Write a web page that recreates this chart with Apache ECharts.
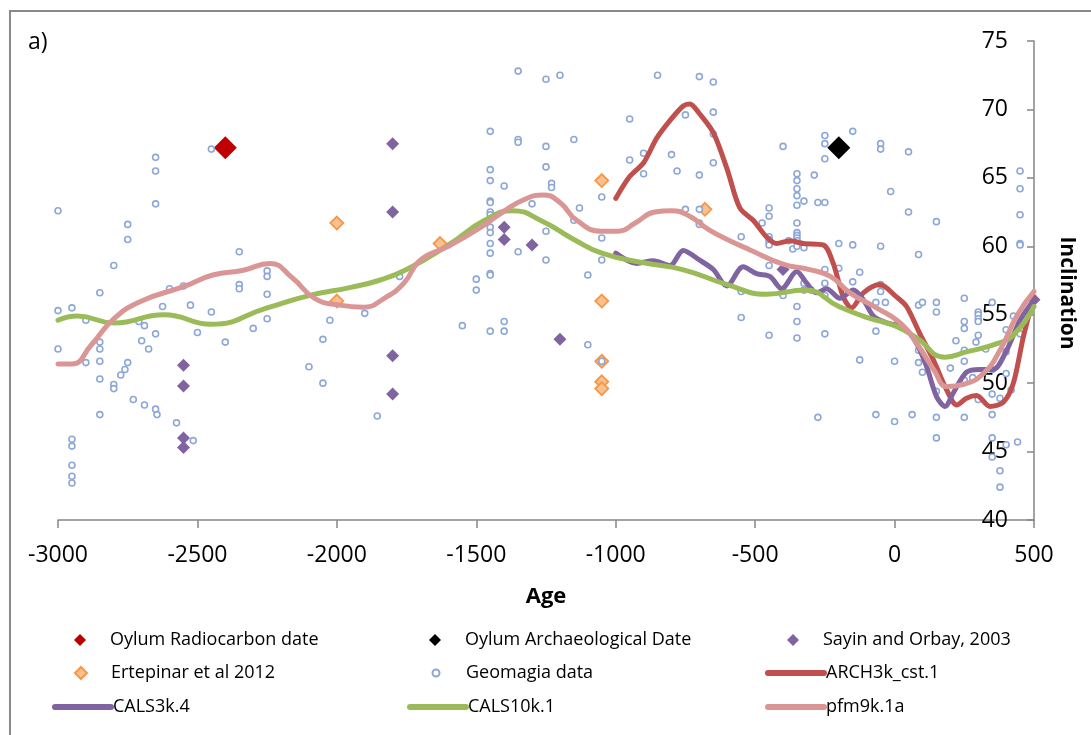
<!DOCTYPE html>
<html>
<head>
<meta charset="utf-8">
<script src="https://cdn.jsdelivr.net/npm/echarts@6/dist/echarts.min.js"></script>
<style>
html,body{margin:0;padding:0;background:#fff;}
#chart{width:1091px;height:735px;}
</style>
</head>
<body>
<div id="chart"></div>
<script>
// ---------- DATA ----------
var xTicks = [-3000, -2500, -2000, -1500, -1000, -500, 0, 500];
var yTicks = [40, 45, 50, 55, 60, 65, 70, 75];

var oylumRadiocarbon = [[-2400, 67.2]];
var oylumArchaeological = [[-200, 67.2]];
var sayinOrbay = [[-2550,51.3],[-2550,49.8],[-2550,46.0],[-2550,45.3],[-1800,67.5],[-1800,62.5],[-1800,52.0],[-1800,49.2],[-1400,61.4],[-1400,60.5],[-1300,60.1],[-1200,53.2],[-400,58.3],[500,56.1]];
var ertepinar = [[-2000,61.7],[-2000,56.0],[-1630,60.2],[-1050,64.8],[-1050,56.0],[-1050,51.6],[-1050,50.1],[-1050,49.6],[-680,62.7]];
var geomagia = [
[-3000,62.6],[-3000,55.3],[-3000,52.5],[-2950,55.5],[-2950,45.9],[-2950,45.4],[-2950,44.0],[-2950,43.2],[-2950,42.7],[-2900,54.6],[-2900,51.5],
[-2850,56.6],[-2850,53.0],[-2850,52.5],[-2850,51.6],[-2850,50.3],[-2850,47.7],[-2800,58.6],[-2800,49.9],[-2800,49.6],[-2775,50.6],[-2760,51.0],
[-2750,61.6],[-2750,60.5],[-2750,51.5],[-2730,48.8],[-2710,54.5],[-2700,53.1],[-2690,54.2],[-2690,48.4],[-2675,52.5],[-2650,66.5],[-2650,65.5],
[-2650,63.1],[-2650,53.6],[-2650,48.1],[-2645,47.7],[-2625,55.6],[-2600,56.9],[-2575,47.1],[-2550,57.1],[-2525,55.7],[-2515,45.8],[-2500,53.7],
[-2450,67.1],[-2450,55.2],[-2400,53.0],[-2350,59.6],[-2350,57.2],[-2350,56.9],[-2300,54.0],[-2250,58.2],[-2250,57.8],[-2250,56.5],[-2250,54.7],
[-2100,51.2],[-2050,53.2],[-2050,50.0],[-2025,54.6],[-1900,55.1],[-1855,47.6],
[-1775,57.8],[-1550,54.2],[-1500,57.6],[-1500,56.8],[-1450,68.4],[-1450,65.6],[-1450,64.8],[-1450,63.3],[-1450,63.2],[-1450,62.5],[-1450,62.3],
[-1450,62.0],[-1450,61.4],[-1450,61.0],[-1450,60.2],[-1450,59.5],[-1450,58.0],[-1450,57.9],[-1450,53.8],[-1400,64.4],[-1400,54.5],[-1400,53.8],
[-1350,72.8],[-1350,67.8],[-1350,67.6],[-1350,59.6],[-1300,63.1],[-1250,72.2],[-1250,67.3],[-1250,65.8],[-1250,61.1],[-1250,59.0],[-1230,64.6],
[-1230,64.3],[-1200,72.5],[-1150,67.8],[-1150,61.9],[-1130,62.8],[-1100,57.9],[-1100,52.8],[-1050,63.6],[-1050,60.6],[-1050,59.0],[-1050,51.6],
[-950,69.3],[-950,66.3],[-900,66.8],[-900,65.3],[-850,72.5],[-800,66.7],[-780,65.5],[-750,69.6],[-750,62.7],[-700,72.4],[-700,65.2],[-700,62.7],
[-700,61.7],[-700,61.6],
[-650,72.0],[-650,69.8],[-650,68.2],[-650,66.1],[-550,60.7],[-550,56.7],[-550,54.8],[-475,61.7],[-450,62.8],[-450,62.2],[-450,60.7],[-450,60.5],
[-450,60.3],[-450,60.1],[-450,58.6],[-450,53.5],[-400,67.3],[-400,56.8],[-400,56.4],[-380,60.4],[-365,59.8],[-350,65.3],[-350,64.8],[-350,64.2],
[-350,63.7],[-350,63.0],[-350,61.7],[-350,61.0],[-350,60.8],[-350,60.6],[-350,60.4],[-350,60.0],[-350,55.6],[-350,54.5],[-350,53.3],[-325,63.3],
[-325,59.9],[-325,57.3],[-325,56.8],[-300,56.8],[-288,65.2],[-275,47.5],[-275,63.2],[-250,68.1],[-250,67.5],[-250,66.4],[-250,63.2],[-250,58.3],
[-250,57.3],[-250,56.4],[-250,53.6],[-200,60.2],[-200,58.4],[-150,68.4],[-150,60.1],[-150,57.4],[-125,58.1],[-125,51.7],[-67,55.9],[-67,53.8],
[-67,47.7],[-50,67.5],[-50,67.1],[-50,60.0],[-50,57.2],[-50,56.7],[-33,55.9],[-14,64.0],[0,51.6],[0,47.2],[50,66.9],[50,62.5],[63,47.7],
[86,59.4],[86,55.7],[86,52.4],[86,51.5],[100,55.9],[100,50.8],[150,61.8],[150,55.9],[150,55.2],[150,49.4],[150,47.5],[150,46.0],[200,51.1],
[220,53.1],[250,56.2],[250,54.5],[250,54.0],[250,52.4],[250,51.6],[250,50.2],[250,47.5],[280,50.4],[292,53.0],[300,55.2],[300,55.0],[300,54.7],
[300,54.5],[300,53.5],[300,48.8],[327,52.5],[350,55.9],[350,51.0],[350,49.2],[350,47.7],[350,46.0],[350,44.6],[378,48.9],[378,43.6],[378,42.4],
[400,53.9],[400,52.3],[400,50.7],[400,45.5],[418,49.5],[426,54.9],[441,45.7],[450,65.5],[450,64.2],[450,62.3],[450,60.2],[450,60.1],[450,53.6]
];
var arch3k = [[-1000,63.5],[-950,65.1],[-900,66.1],[-853,67.9],[-805,69.2],[-758,70.25],[-734,70.4],[-700,69.7],[-650,68.3],[-600,65.6],[-555,62.8],[-507,61.9],[-460,60.7],[-423,60.2],[-375,60.4],[-327,60.2],[-256,60.1],[-220,58.75],[-184,56.3],[-154,55.5],[-112,56.6],[-53,57.2],[7,56.3],[43,55.6],[91,53.6],[139,51.7],[187,49.5],[223,48.4],[258,48.9],[294,49.1],[342,48.3],[390,48.6],[426,50.0],[462,53.4],[500,56.3]];
var cals3k = [[-1000,59.5],[-925,58.75],[-865,58.95],[-805,58.6],[-758,59.7],[-700,59.0],[-650,58.3],[-602,57.1],[-543,58.5],[-495,58.0],[-447,57.8],[-405,56.9],[-351,58.15],[-315,57.3],[-280,56.6],[-244,56.9],[-196,56.2],[-148,56.8],[-112,56.1],[-76,54.9],[-28,54.4],[31,54.1],[79,52.9],[115,51.2],[151,49.0],[181,48.3],[211,49.3],[258,50.8],[306,51.0],[354,51.0],[402,52.4],[450,54.6],[500,56.1]];
var cals10k = [[-3000,54.6],[-2930,54.9],[-2800,54.4],[-2620,55.0],[-2450,54.3],[-2250,55.5],[-2100,56.4],[-1950,57.0],[-1850,57.5],[-1750,58.3],[-1600,60.1],[-1470,61.9],[-1370,62.6],[-1260,61.8],[-1150,60.5],[-1050,59.5],[-900,58.8],[-760,58.3],[-600,57.2],[-460,56.5],[-320,56.8],[-200,55.6],[-100,54.8],[0,54.2],[80,53.3],[180,51.9],[260,52.3],[370,52.9],[430,53.6],[500,55.6]];
var pfm9k = [[-3000,51.4],[-2950,51.4],[-2880,52.8],[-2800,54.7],[-2700,56.0],[-2550,57.05],[-2445,57.9],[-2335,58.25],[-2240,58.75],[-2160,57.7],[-2080,56.2],[-1990,55.7],[-1905,55.55],[-1830,56.2],[-1760,57.3],[-1700,59.0],[-1600,60.0],[-1490,61.3],[-1405,62.5],[-1330,63.4],[-1260,63.75],[-1200,63.2],[-1140,61.9],[-1050,61.1],[-990,61.1],[-930,61.7],[-860,62.5],[-800,62.6],[-735,62.2],[-665,61.2],[-600,60.5],[-520,59.75],[-400,58.7],[-305,58.3],[-230,57.8],[-160,56.6],[-65,55.5],[20,54.4],[80,52.9],[140,51.0],[190,49.75],[245,49.9],[318,50.7],[378,52.4],[438,54.9],[500,56.7]];

var seriesNames = ['Oylum Radiocarbon date','Oylum Archaeological Date','Sayin and Orbay, 2003','Ertepinar et al 2012','Geomagia data','ARCH3k_cst.1','CALS3k.4','CALS10k.1','pfm9k.1a'];

// ---------- CHART ----------
var FONT = "'Open Sans', 'Liberation Sans', sans-serif";
var chart = echarts.init(document.getElementById('chart'), null, {renderer: 'canvas'});

var legendCols = [52, 407, 765];
var legendRows = [630, 663, 697];
// [name, column, row, kind]
var legendLayout = [
  [seriesNames[0], 0, 0, 'd'], [seriesNames[1], 1, 0, 'd'], [seriesNames[2], 2, 0, 'd'],
  [seriesNames[3], 0, 1, 'd'], [seriesNames[4], 1, 1, 'c'], [seriesNames[5], 2, 1, 'l'],
  [seriesNames[6], 0, 2, 'l'], [seriesNames[7], 1, 2, 'l'], [seriesNames[8], 2, 2, 'l']
];
var legends = legendLayout.map(function (l) {
  var kind = l[3];
  var w = kind === 'l' ? 56 : (kind === 'd' ? 12 : 7);
  var h = kind === 'l' ? 20 : w;
  var left = legendCols[l[1]] + (56 - w) / 2;
  var textPad = (legendCols[l[1]] + 58) - (left + w + 5);
  var lg = {
    data: [l[0]],
    left: left,
    top: legendRows[l[2]] + (kind === 'l' ? 0 : 0),
    orient: 'horizontal',
    padding: 0,
    itemGap: 0,
    itemWidth: w,
    itemHeight: h,
    selectedMode: false,
    textStyle: {fontFamily: FONT, fontSize: 18, color: '#000', lineHeight: 20, padding: [0, 0, 0, textPad]}
  };
  if (kind === 'l') {
    lg.lineStyle = {width: 6, cap: 'round'};
    lg.itemStyle = {opacity: 0};
  }
  return lg;
});

function lineSeries(name, data, color, smooth) {
  return {
    name: name, type: 'line', data: data, symbol: 'none', showSymbol: false,
    smooth: smooth,
    lineStyle: {color: color, width: 5, cap: 'round', join: 'round'},
    itemStyle: {color: color},
    emphasis: {disabled: true}, animation: false
  };
}

var option = {
  animation: false,
  backgroundColor: '#fff',
  grid: {left: 58, top: 41, width: 976, height: 479, containLabel: false},
  legend: legends,
  xAxis: {
    type: 'value', min: -3000, max: 500, interval: 500,
    axisLine: {show: true, onZero: false, lineStyle: {color: '#868686', width: 1.5}},
    axisTick: {show: true, length: 8, lineStyle: {color: '#868686', width: 1.5}},
    axisLabel: {fontFamily: FONT, fontSize: 23, color: '#000', margin: 24,
      formatter: function (v) { return xTicks.indexOf(v) >= 0 ? String(v) : ''; }},
    splitLine: {show: false}
  },
  yAxis: {
    type: 'value', position: 'right', min: 40, max: 75, interval: 5,
    axisLine: {show: true, onZero: false, lineStyle: {color: '#868686', width: 1.5}},
    axisTick: {show: true, inside: true, length: 7, lineStyle: {color: '#868686', width: 1.5}},
    axisLabel: {inside: true, margin: 26, fontFamily: FONT, fontSize: 23, color: '#000',
      formatter: function (v) { return yTicks.indexOf(v) >= 0 ? String(v) : ''; }},
    splitLine: {show: false}
  },
  graphic: [
    {type: 'rect', shape: {x: 10, y: 11, width: 1200, height: 900}, style: {fill: 'none', stroke: '#898989', lineWidth: 2}, silent: true, z: -10},
    {type: 'text', x: 28, y: 42, style: {text: 'a)', font: '23px ' + FONT, fill: '#000', textAlign: 'left', textVerticalAlign: 'middle'}},
    {type: 'text', x: 546, y: 597, style: {text: 'Age', font: 'bold 22px ' + FONT, fill: '#000', textAlign: 'center', textVerticalAlign: 'middle'}},
    {type: 'text', x: 1067, y: 293, rotation: -Math.PI / 2, style: {text: 'Inclination', font: 'bold 21px ' + FONT, fill: '#000', textAlign: 'center', textVerticalAlign: 'middle'}}
  ],
  series: [
    {name: seriesNames[0], type: 'scatter', data: oylumRadiocarbon, symbol: 'diamond', symbolSize: 23, itemStyle: {color: '#C00000', opacity: 1}},
    {name: seriesNames[1], type: 'scatter', data: oylumArchaeological, symbol: 'diamond', symbolSize: 23, itemStyle: {color: '#000000', opacity: 1}},
    {name: seriesNames[2], type: 'scatter', data: sayinOrbay, symbol: 'diamond', symbolSize: 13, itemStyle: {color: '#8064A2', opacity: 1}},
    {name: seriesNames[3], type: 'scatter', data: ertepinar, symbol: 'diamond', symbolSize: 13, itemStyle: {color: '#FAC090', borderColor: '#F79646', borderWidth: 1.8, opacity: 1}},
    {name: seriesNames[4], type: 'scatter', data: geomagia, symbol: 'circle', symbolSize: 6, itemStyle: {color: '#ffffff', borderColor: '#8CA7D8', borderWidth: 1.6, opacity: 1}},
    lineSeries(seriesNames[5], arch3k, '#C0504D', 0.3),
    lineSeries(seriesNames[6], cals3k, '#8064A2', 0.3),
    lineSeries(seriesNames[7], cals10k, '#9BBB59', 0.5),
    lineSeries(seriesNames[8], pfm9k, '#DA9694', 0.5)
  ]
};
chart.setOption(option);
</script>
</body>
</html>
